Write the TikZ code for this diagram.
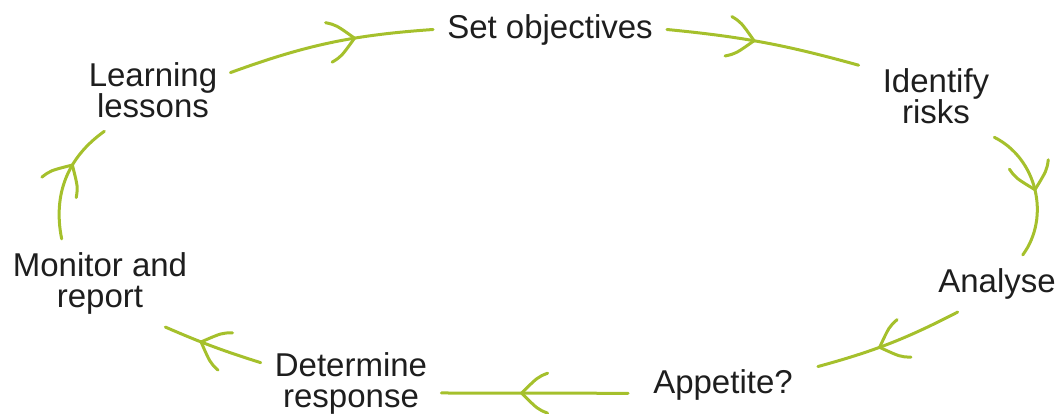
\documentclass[tikz,border=0pt]{standalone}
\usepackage{fontspec}
\setmainfont{Liberation Sans}
\usetikzlibrary{decorations.markings}
\definecolor{lime}{RGB}{165,192,44}
\definecolor{txt}{RGB}{30,30,30}
\begin{document}
\begin{tikzpicture}[x=1pt,y=1pt,
  lbl/.style={font=\fontsize{33}{31}\selectfont, text=txt, align=center, inner sep=13pt},
  armtip/.style={line width=3pt, draw=lime, line cap=round},
  flow/.style={line width=3pt, draw=lime, line cap=round, postaction={decorate},
    decoration={markings, mark=at position #1 with {\draw[armtip] (-26pt,20pt) .. controls (-16pt,16pt) .. (0pt,0pt) .. controls (-16pt,-16pt) .. (-26pt,-20pt);}}},
  flow/.default=0.5
]
\useasboundingbox (0,0) rectangle (1059,414);
\node[lbl] (lrn) at (153,323.5) {Learning\\lessons};
\node[lbl, inner sep=14pt] (set) at (550,384.5) {Set objectives};
\node[lbl, inner xsep=24pt] (idr) at (936,317.5) {Identify\\risks};
\node[lbl] (ana) at (997,130.5) {Analyse};
\node[lbl, inner xsep=25pt] (app) at (723,29) {Appetite?};
\node[lbl, inner sep=14pt] (det) at (351,30.5) {Determine\\response};
\node[lbl] (mon) at (100,131) {Monitor and\\report};

\draw[flow=0.62] (lrn.13.5) to[bend left=8] (set.west);
\draw[flow=0.45] (set.east) to[bend left=5] (idr.158.6);
\draw[flow=0.5] (idr.-35.7) to[bend left=50] (ana.48);
\draw[flow=0.57] (ana.-144) to[bend left=6] (app.11.7);
\draw[flow=0.57] (app.185) -- (det.-6.3);
\draw[flow=0.62] (det.167) to[bend left=3] (mon.-34);
\draw[flow=0.62] (mon.131.5) to[bend left=33] (lrn.-140);
\end{tikzpicture}
\end{document}
